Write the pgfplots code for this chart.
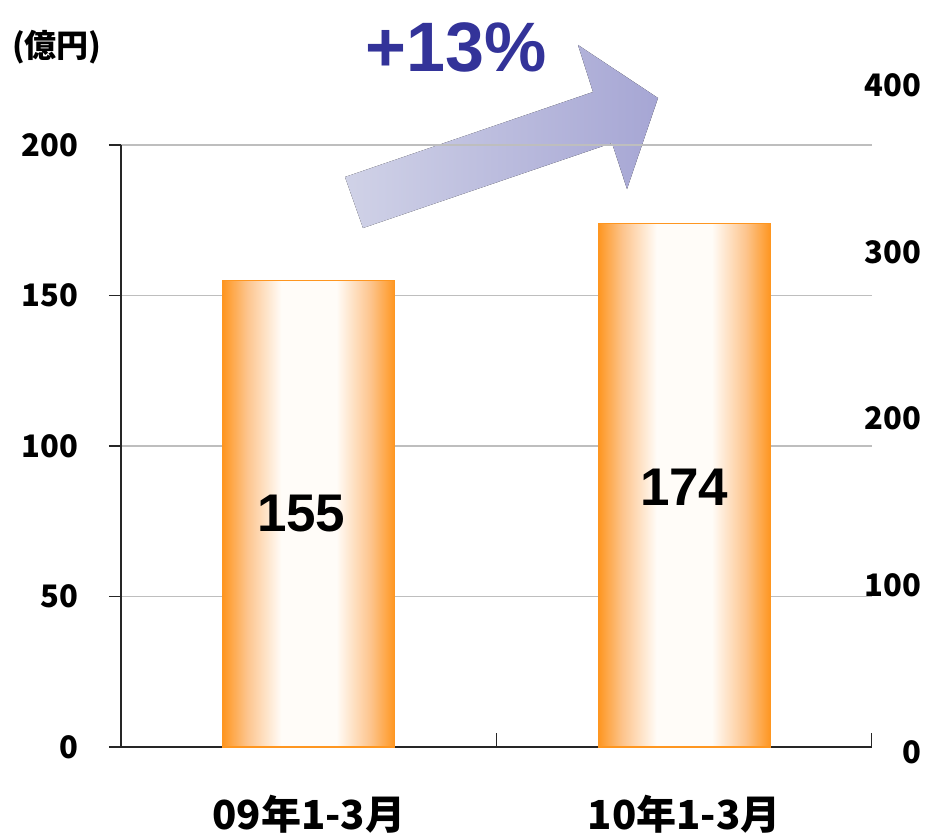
\documentclass[border=0pt]{standalone}
\usepackage{pgfplots}
\pgfplotsset{compat=1.18}
\usepackage{fontspec}
\setmainfont{Liberation Sans}
\newfontfamily\jp{Noto Sans CJK JP}

\definecolor{barorange}{RGB}{254,150,32}
\definecolor{barmid}{RGB}{253,196,140}
\definecolor{barwhite}{RGB}{255,252,248}
\definecolor{arrowL}{RGB}{208,210,231}
\definecolor{arrowR}{RGB}{166,166,212}
\definecolor{pctblue}{RGB}{51,51,153}
\definecolor{gridgray}{RGB}{190,190,190}

% orange at both edges, white in the middle
\pgfdeclarehorizontalshading{barshade}{100bp}{color(0bp)=(barorange); color(25bp)=(barorange);
  color(32bp)=(barmid); color(42bp)=(barwhite); color(58bp)=(barwhite);
  color(68bp)=(barmid); color(75bp)=(barorange); color(100bp)=(barorange)}

\begin{document}
\begin{tikzpicture}
\useasboundingbox (-60.5pt,-42.5pt) rectangle (403.5pt,373.5pt);

% growth arrow (behind the grid)
\fill[left color=arrowL, right color=arrowR]
  (112pt,285pt) -- (236pt,327.5pt) -- (228.5pt,351pt) -- (268.5pt,324.5pt) -- (253pt,279pt) -- (245.5pt,302pt) -- (121pt,259.5pt) -- cycle;

% left axis (values)
\begin{axis}[
  scale only axis, width=375.5pt, height=301pt,
  at={(0pt,0pt)}, anchor=south west,
  xmin=-0.5, xmax=1.5, ymin=0, ymax=200,
  axis x line*=bottom, axis y line*=left,
  axis line style={black!85, line width=0.75pt, -},
  xtick={0,1}, xticklabels={09年1-3月,10年1-3月},
  xtick style={draw=none},
  ytick={0,50,...,200},
  ytick style={black!85, line width=0.75pt},
  tick align=outside, major tick length=6pt,
  ymajorgrids, grid style={gridgray, line width=0.8pt},
  /pgf/number format/assume math mode=true,
  yticklabel style={font=\jp\bfseries\fontsize{15.5pt}{16pt}\selectfont, anchor=east, inner sep=0pt, xshift=-15pt},
  xticklabel style={font=\jp\bfseries\fontsize{20pt}{20pt}\selectfont, anchor=north, inner sep=0pt, yshift=-18pt},
  ybar, bar width=86pt, bar shift=0pt,
]
\addplot[shading=barshade, draw=barorange, line width=0.6pt] coordinates {(0,155)};
\addplot[shading=barshade, draw=barorange, line width=0.6pt] coordinates {(1,174)};
\node[font=\bfseries\fontsize{26.5pt}{27pt}\selectfont] at (axis cs:-0.02,77.7) {155};
\node[font=\bfseries\fontsize{26.5pt}{27pt}\selectfont] at (axis cs:1.0,86.4) {174};
\draw[black!85, line width=0.75pt] (axis cs:0.5,0) -- ([yshift=7pt]axis cs:0.5,0);
\draw[black!85, line width=0.75pt] (axis cs:1.5,0) -- ([yshift=7pt]axis cs:1.5,0);
\end{axis}

% right axis (labels only)
\begin{axis}[
  scale only axis, width=375.5pt, height=333.5pt,
  at={(0pt,-2.5pt)}, anchor=south west,
  xmin=-0.5, xmax=1.5, ymin=0, ymax=400,
  axis y line*=right, axis x line=none,
  y axis line style={draw=none},
  ytick={0,100,...,400}, major tick length=0pt,
  ytick style={draw=none},
  /pgf/number format/assume math mode=true,
  yticklabel style={font=\jp\bfseries\fontsize{15.5pt}{16pt}\selectfont, anchor=east, inner sep=0pt, xshift=25pt},
]
\addplot[draw=none, forget plot] coordinates {(0,0)};
\end{axis}

\node[font=\bfseries\fontsize{35pt}{35pt}\selectfont, text=pctblue] at (167.5pt,350pt) {+13\%};
\node[font=\jp\bfseries\fontsize{16pt}{16pt}\selectfont, inner sep=0pt] at (-32pt,350pt) {(億円)};
\end{tikzpicture}
\end{document}
